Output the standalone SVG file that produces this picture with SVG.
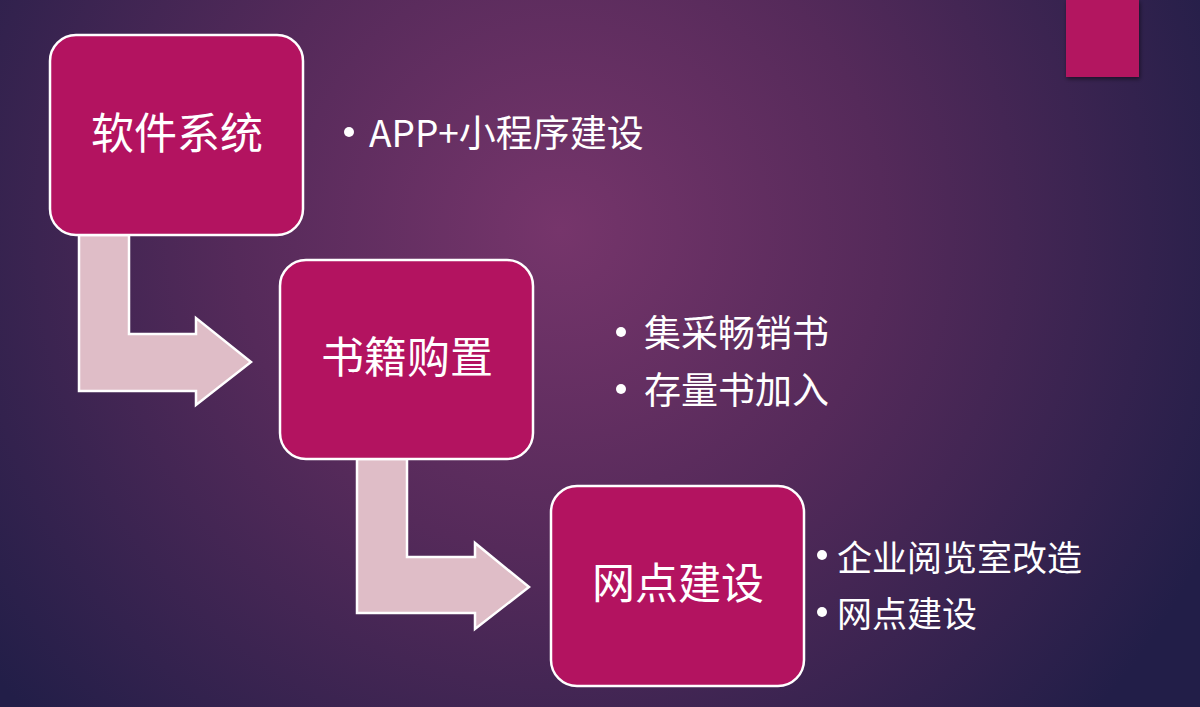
<svg xmlns="http://www.w3.org/2000/svg" width="1200" height="707" viewBox="0 0 1200 707">
<defs>
<radialGradient id="bg" cx="560" cy="230" r="720" gradientUnits="userSpaceOnUse">
<stop offset="0" stop-color="#76356b"/>
<stop offset="0.45" stop-color="#552a5a"/>
<stop offset="1" stop-color="#221e48"/>
</radialGradient>
<filter id="sh" x="-20%" y="-20%" width="140%" height="140%">
<feDropShadow dx="1" dy="2" stdDeviation="2" flood-color="#000" flood-opacity="0.5"/>
</filter>
<style>
.box{fill:#b31360;stroke:#ffffff;stroke-width:2.5}
.arr{fill:#dfbdc7;stroke:#ffffff;stroke-width:2.5;stroke-linejoin:miter}
.t{font-family:"Noto Sans CJK SC","Noto Sans",sans-serif;fill:#ffffff}
.big{font-size:43px}
.b{font-size:37px}
.c{font-size:35px}
.dot{fill:#ffffff}
</style>
</defs>
<rect x="0" y="0" width="1200" height="707" fill="url(#bg)"/>
<rect x="1066" y="0" width="73" height="77" fill="#b31360" filter="url(#sh)"/>
<g id="connectors">
<polygon class="arr" points="79,235 129,235 129,334 196,334 196,318 251,362 196,405 196,391 79,391"/>
<polygon class="arr" points="357,459 407,459 407,557 475,557 475,543 529,587 475,629 475,613 357,613"/>
</g>
<g id="node1">
<rect class="box" x="50" y="35" width="253" height="200" rx="26"/>
<text class="t big" x="177" y="149" text-anchor="middle">软件系统</text>
</g>
<g id="node2">
<rect class="box" x="280" y="260" width="253" height="199" rx="26"/>
<text class="t big" x="407" y="373" text-anchor="middle">书籍购置</text>
</g>
<g id="node3">
<rect class="box" x="551" y="486" width="253" height="200" rx="26"/>
<text class="t big" x="678" y="599" text-anchor="middle">网点建设</text>
</g>
<g id="labels">
<circle class="dot" cx="349" cy="132" r="5"/>
<text class="t b" x="369" y="147">APP+小程序建设</text>
<circle class="dot" cx="621" cy="332" r="5"/>
<text class="t b" x="644" y="347">集采畅销书</text>
<circle class="dot" cx="621" cy="389" r="5"/>
<text class="t b" x="644" y="404">存量书加入</text>
<circle class="dot" cx="822" cy="555" r="5"/>
<text class="t c" x="837" y="571">企业阅览室改造</text>
<circle class="dot" cx="822" cy="612" r="5"/>
<text class="t c" x="837" y="627">网点建设</text>
</g>
</svg>
